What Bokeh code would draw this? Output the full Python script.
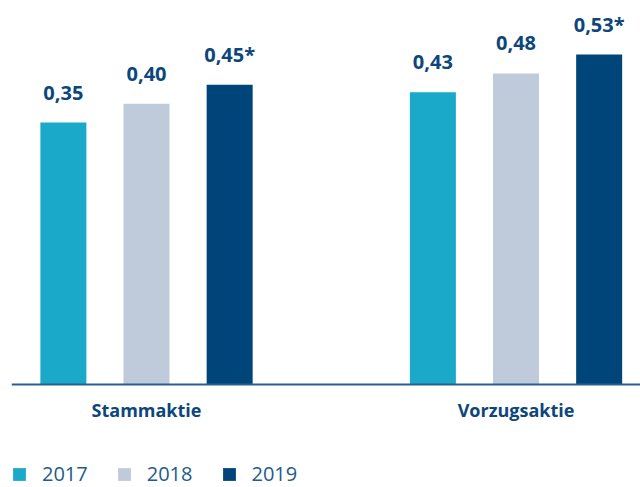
from bokeh.plotting import figure
from bokeh.models import ColumnDataSource, Range1d, FixedTicker, Legend, LegendItem
from bokeh.transform import dodge
from bokeh.core.properties import value
from bokeh.embed import file_html
from bokeh.resources import INLINE

# ---- data ----
categories = ["Stammaktie", "Vorzugsaktie"]
years = ["2017", "2018", "2019"]
values_2017 = [0.35, 0.43]
values_2018 = [0.40, 0.48]
values_2019 = [0.45, 0.53]
labels_2017 = ["0,35", "0,43"]
labels_2018 = ["0,40", "0,48"]
labels_2019 = ["0,45*", "0,53*"]

colors = ["#1ba9c9", "#bfcbdb", "#00457a"]
label_color = "#0c467b"
y_floor = -0.343

p = figure(width=640, height=487, output_backend="svg", toolbar_location=None,
           x_range=Range1d(-0.3654, 1.3369), y_range=Range1d(-0.6155, 0.6729),
           min_border_left=11, min_border_right=0, min_border_top=0, min_border_bottom=0)
p.outline_line_color = None
p.background_fill_color = "white"
p.border_fill_color = "white"
p.grid.visible = False
p.yaxis.visible = False

series = [values_2017, values_2018, values_2019]
texts = [labels_2017, labels_2018, labels_2019]
offsets = [-0.225, 0.0, 0.225]
items = []
for yr, vals, txt, off, col in zip(years, series, texts, offsets, colors):
    src = ColumnDataSource(dict(x=list(range(len(categories))), top=vals, label=txt,
                                bottom=[y_floor] * len(vals)))
    r = p.vbar(x=dodge("x", off), top="top", bottom="bottom", width=0.1245, source=src,
               fill_color=col, line_color=None)
    p.text(x=dodge("x", off), y="top", text="label", source=src, text_align="center",
           text_baseline="alphabetic", y_offset=-30, text_font=value("Open Sans"),
           text_font_style="bold", text_font_size="20px", text_color=label_color)
    items.append(LegendItem(label=yr, renderers=[r]))

ax = p.xaxis[0]
ax.fixed_location = y_floor
ax.ticker = FixedTicker(ticks=list(range(len(categories))))
ax.major_label_overrides = {i: c for i, c in enumerate(categories)}
ax.major_tick_line_color = None
ax.minor_tick_line_color = None
ax.major_tick_out = 0
ax.minor_tick_out = 0
ax.axis_line_color = "#2a5f90"
ax.axis_line_width = 2
ax.major_label_text_font = "Open Sans"
ax.major_label_text_font_style = "bold"
ax.major_label_text_font_size = "18px"
ax.major_label_text_color = label_color
ax.major_label_standoff = 14

legend = Legend(items=items, orientation="horizontal", location=(0, 0),
                glyph_width=16, glyph_height=16, label_standoff=15, spacing=28,
                padding=0, margin=0, border_line_color=None, background_fill_alpha=0,
                label_text_font="Open Sans", label_text_font_size="20px",
                label_text_color="#235b8c")
p.add_layout(legend, "center")

open("out.html", "w").write(file_html(p, INLINE))
